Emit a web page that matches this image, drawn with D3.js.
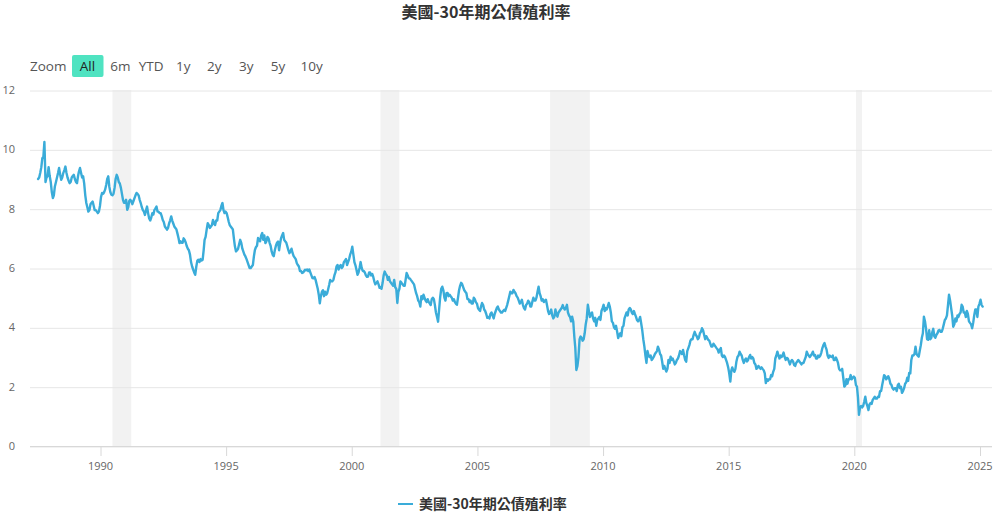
<!DOCTYPE html>
<html><head><meta charset="utf-8">
<script src="https://cdn.jsdelivr.net/npm/d3@7/dist/d3.min.js"></script>
<style>
body{margin:0;background:#fff}
svg{display:block}
</style></head>
<body>
<svg id="c" width="996" height="515"></svg>
<script>
// ---- data: US 30-year Treasury yield (%), two readings per month (1st, 16th) ----
const title = "美國-30年期公債殖利率";
const y1987 = [9.0, 9.05, 9.2, 9.4, 9.7, 9.75, 10.25, 8.9, 9.05, 9.1, 9.4]; // from Jul 16
const y1988 = [9.1, 8.9, 8.55, 8.36, 8.45, 8.75, 8.9, 9.05, 9.2, 9.37, 9.15, 8.97, 9.05, 9.2, 9.3, 9.42, 9.2, 9.05, 8.95, 8.86, 8.9, 9.05, 9.1, 9.14];
const y1989 = [9.0, 8.9, 8.86, 9.1, 9.25, 9.37, 9.2, 9.05, 9.09, 8.85, 8.45, 8.19, 8.05, 7.9, 7.95, 8.15, 8.2, 8.24, 8.1, 7.95, 7.95, 7.9, 7.85, 7.9];
const y1990 = [8.1, 8.4, 8.53, 8.5, 8.55, 8.64, 8.8, 9.0, 9.09, 8.75, 8.55, 8.47, 8.45, 8.5, 8.7, 9.0, 9.14, 9.05, 8.9, 8.85, 8.7, 8.5, 8.3, 8.2];
const y1991 = [8.2, 8.3, 7.96, 8.05, 8.25, 8.3, 8.25, 8.15, 8.25, 8.35, 8.45, 8.53, 8.5, 8.45, 8.3, 8.19, 8.05, 7.95, 7.9, 7.79, 7.95, 8.07, 7.85, 7.68];
const y1992 = [7.6, 7.7, 7.85, 7.8, 7.95, 8.0, 8.07, 7.9, 7.9, 7.85, 7.85, 7.75, 7.62, 7.55, 7.4, 7.35, 7.29, 7.35, 7.5, 7.6, 7.74, 7.6, 7.5, 7.4];
const y1993 = [7.35, 7.3, 7.15, 7.0, 6.84, 6.9, 6.85, 6.85, 7.0, 6.95, 6.85, 6.73, 6.65, 6.6, 6.45, 6.2, 6.05, 5.95, 5.85, 5.77, 6.05, 6.25, 6.28, 6.2];
const y1994 = [6.3, 6.25, 6.28, 6.6, 6.95, 7.05, 7.3, 7.51, 7.45, 7.35, 7.4, 7.45, 7.62, 7.5, 7.45, 7.6, 7.6, 7.85, 7.9, 7.95, 8.1, 8.19, 7.95, 7.85];
const y1995 = [7.9, 7.85, 7.7, 7.55, 7.45, 7.4, 7.35, 7.3, 7.0, 6.73, 6.56, 6.6, 6.65, 6.8, 6.95, 6.85, 6.65, 6.55, 6.45, 6.39, 6.3, 6.2, 6.1, 6.0];
const y1996 = [6.0, 6.05, 6.1, 6.39, 6.6, 6.7, 6.75, 7.01, 6.95, 6.9, 7.1, 7.18, 6.95, 7.1, 6.84, 6.9, 7.05, 7.0, 6.85, 6.75, 6.55, 6.44, 6.4, 6.6];
const y1997 = [6.75, 6.85, 6.89, 6.6, 6.8, 7.0, 7.1, 7.18, 6.95, 6.9, 6.85, 6.73, 6.6, 6.5, 6.56, 6.65, 6.5, 6.4, 6.35, 6.3, 6.16, 6.1, 6.05, 5.9];
const y1998 = [5.9, 5.83, 5.85, 5.9, 5.94, 5.92, 5.95, 5.9, 5.95, 5.85, 5.75, 5.66, 5.65, 5.7, 5.6, 5.45, 5.3, 5.1, 4.81, 5.05, 5.2, 5.25, 5.05, 5.2];
const y1999 = [5.1, 5.15, 5.3, 5.45, 5.6, 5.55, 5.55, 5.6, 5.75, 5.85, 6.05, 6.1, 5.95, 6.05, 6.1, 6.0, 6.05, 6.2, 6.25, 6.3, 6.1, 6.2, 6.3, 6.45];
const y2000 = [6.55, 6.72, 6.45, 6.2, 6.1, 5.95, 5.77, 5.85, 6.0, 6.2, 6.0, 5.9, 5.9, 5.85, 5.75, 5.7, 5.71, 5.85, 5.85, 5.75, 5.8, 5.7, 5.55, 5.45];
const y2001 = [5.5, 5.55, 5.45, 5.33, 5.35, 5.3, 5.5, 5.75, 5.88, 5.8, 5.75, 5.6, 5.7, 5.55, 5.5, 5.45, 5.4, 5.6, 5.35, 5.3, 4.82, 5.2, 5.3, 5.55];
const y2002 = [5.5, 5.45, 5.4, 5.4, 5.6, 5.83, 5.75, 5.65, 5.65, 5.6, 5.55, 5.5, 5.45, 5.3, 5.15, 5.05, 4.9, 4.85, 4.7, 5.05, 4.95, 5.1, 5.0, 4.9];
const y2003 = [4.85, 4.95, 4.85, 4.8, 4.75, 4.95, 5.0, 4.95, 4.75, 4.5, 4.35, 4.19, 4.6, 5.0, 5.3, 5.37, 5.25, 5.0, 4.9, 5.15, 5.16, 5.05, 5.1, 5.05];
const y2004 = [5.0, 4.9, 4.95, 4.85, 4.8, 4.76, 5.0, 5.25, 5.4, 5.5, 5.45, 5.35, 5.25, 5.2, 5.15, 4.95, 4.95, 4.85, 4.9, 4.8, 4.8, 5.0, 4.95, 4.85];
const y2005 = [4.8, 4.65, 4.59, 4.55, 4.7, 4.82, 4.75, 4.6, 4.55, 4.45, 4.32, 4.35, 4.3, 4.45, 4.5, 4.4, 4.3, 4.45, 4.55, 4.65, 4.7, 4.6, 4.55, 4.5];
const y2006 = [4.5, 4.55, 4.59, 4.55, 4.65, 4.75, 4.9, 5.05, 5.2, 5.15, 5.15, 5.26, 5.2, 5.15, 5.05, 5.0, 4.9, 4.8, 4.85, 4.93, 4.75, 4.65, 4.6, 4.75];
const y2007 = [4.8, 4.9, 4.85, 4.7, 4.7, 4.85, 5.0, 4.9, 4.9, 5.0, 5.2, 5.37, 5.15, 5.05, 4.9, 4.95, 4.85, 4.9, 4.93, 4.75, 4.55, 4.45, 4.5, 4.6];
const y2008 = [4.4, 4.3, 4.36, 4.6, 4.45, 4.36, 4.5, 4.55, 4.6, 4.65, 4.75, 4.65, 4.6, 4.65, 4.76, 4.5, 4.4, 4.35, 4.2, 4.36, 4.2, 3.7, 3.3, 2.56];
const y2009 = [2.7, 3.0, 3.6, 3.69, 3.65, 3.55, 3.6, 3.8, 4.1, 4.3, 4.76, 4.55, 4.35, 4.45, 4.5, 4.3, 4.2, 4.32, 4.05, 4.25, 4.3, 4.35, 4.25, 4.55];
const y2010 = [4.65, 4.76, 4.55, 4.65, 4.6, 4.7, 4.82, 4.7, 4.5, 4.2, 4.15, 4.0, 3.95, 4.05, 3.85, 3.64, 3.75, 3.8, 3.7, 4.0, 4.05, 4.3, 4.4, 4.5];
const y2011 = [4.4, 4.6, 4.65, 4.6, 4.5, 4.45, 4.55, 4.45, 4.36, 4.25, 4.2, 4.25, 4.35, 4.14, 3.9, 3.6, 3.35, 3.05, 2.8, 3.2, 3.05, 3.0, 3.05, 2.9];
const y2012 = [2.95, 3.01, 3.1, 3.15, 3.2, 3.35, 3.25, 3.1, 3.05, 2.85, 2.6, 2.7, 2.6, 2.51, 2.6, 2.9, 2.8, 3.01, 2.9, 2.95, 2.85, 2.75, 2.8, 2.9];
const y2013 = [2.95, 3.05, 3.2, 3.15, 3.1, 3.24, 3.05, 2.9, 2.84, 3.2, 3.3, 3.4, 3.55, 3.6, 3.6, 3.74, 3.85, 3.75, 3.7, 3.6, 3.65, 3.8, 3.85, 3.97];
const y2014 = [3.9, 3.75, 3.6, 3.7, 3.65, 3.58, 3.55, 3.45, 3.35, 3.35, 3.45, 3.4, 3.35, 3.3, 3.25, 3.15, 3.24, 3.3, 3.05, 3.0, 3.05, 3.0, 2.9, 2.8];
const y2015 = [2.65, 2.45, 2.17, 2.55, 2.65, 2.55, 2.5, 2.6, 2.85, 3.0, 3.05, 3.18, 3.1, 3.05, 2.9, 2.8, 2.9, 2.95, 2.85, 2.9, 3.0, 3.07, 2.95, 3.0];
const y2016 = [2.95, 2.8, 2.75, 2.6, 2.63, 2.7, 2.65, 2.6, 2.65, 2.6, 2.55, 2.45, 2.12, 2.25, 2.2, 2.25, 2.25, 2.39, 2.35, 2.5, 2.6, 2.95, 3.05, 3.18];
const y2017 = [3.05, 2.95, 3.05, 3.0, 3.05, 3.15, 3.0, 2.9, 2.97, 2.95, 2.85, 2.75, 2.85, 2.9, 2.85, 2.73, 2.7, 2.8, 2.85, 2.9, 2.85, 2.8, 2.75, 2.8];
const y2018 = [2.8, 2.9, 3.0, 3.18, 3.1, 3.05, 3.0, 3.05, 3.1, 3.18, 3.05, 3.07, 2.95, 2.95, 3.05, 3.0, 3.05, 3.15, 3.3, 3.4, 3.47, 3.35, 3.25, 3.05];
const y2019 = [2.97, 3.05, 3.01, 3.0, 3.05, 2.9, 2.9, 2.98, 2.9, 2.8, 2.6, 2.55, 2.55, 2.6, 2.3, 2.0, 2.05, 2.25, 2.1, 2.25, 2.25, 2.39, 2.25, 2.3];
const y2020 = [2.34, 2.3, 2.05, 2.0, 1.65, 1.05, 1.3, 1.35, 1.3, 1.35, 1.5, 1.66, 1.45, 1.35, 1.21, 1.4, 1.45, 1.42, 1.55, 1.6, 1.66, 1.6, 1.6, 1.66];
const y2021 = [1.65, 1.85, 1.85, 2.05, 2.2, 2.39, 2.35, 2.25, 2.3, 2.35, 2.25, 2.1, 2.06, 1.95, 1.9, 1.95, 1.95, 1.85, 2.05, 2.1, 1.95, 2.0, 1.79, 1.85];
const y2022 = [1.95, 2.1, 2.15, 2.3, 2.2, 2.46, 2.45, 2.9, 3.05, 3.05, 3.1, 3.35, 3.1, 3.05, 3.01, 3.2, 3.4, 3.65, 3.8, 4.36, 4.2, 3.95, 3.6, 3.58];
const y2023 = [3.9, 3.6, 3.65, 3.85, 3.95, 3.7, 3.65, 3.75, 3.8, 3.9, 3.91, 3.85, 3.85, 3.95, 4.1, 4.25, 4.3, 4.4, 4.75, 5.1, 4.9, 4.65, 4.4, 4.02];
const y2024 = [4.1, 4.3, 4.2, 4.4, 4.35, 4.45, 4.5, 4.76, 4.7, 4.5, 4.5, 4.35, 4.55, 4.45, 4.2, 4.15, 4.1, 3.97, 4.15, 4.4, 4.6, 4.6, 4.35, 4.7];
const y2025 = [4.8, 4.93, 4.75, 4.7];

const seriesYears = [1987,1988,1989,1990,1991,1992,1993,1994,1995,1996,1997,1998,1999,2000,2001,2002,2003,2004,2005,2006,2007,2008,2009,2010,2011,2012,2013,2014,2015,2016,2017,2018,2019,2020,2021,2022,2023,2024,2025];
const seriesByYear = [y1987,y1988,y1989,y1990,y1991,y1992,y1993,y1994,y1995,y1996,y1997,y1998,y1999,y2000,y2001,y2002,y2003,y2004,y2005,y2006,y2007,y2008,y2009,y2010,y2011,y2012,y2013,y2014,y2015,y2016,y2017,y2018,y2019,y2020,y2021,y2022,y2023,y2024,y2025];
const firstYearOffset = 13; // 1987 starts at Jul 16 (half-month slot 13)

// US recessions (shaded bands)
const recessionStarts = ["1990-07-01","2001-03-01","2007-12-01","2020-02-01"];
const recessionEnds   = ["1991-03-31","2001-11-30","2009-06-30","2020-04-30"];

const yTicks = [0,2,4,6,8,10,12];
const xTickYears = [1990,1995,2000,2005,2010,2015,2020,2025];
const rangeButtons = ["All","6m","YTD","1y","2y","3y","5y","10y"];

// ---- build points ----
const data = [];
seriesYears.forEach((yr, yi) => {
  const arr = seriesByYear[yi];
  const off = yi === 0 ? firstYearOffset : 0;
  arr.forEach((v, i) => {
    const k = i + off;
    data.push({date: new Date(yr, Math.floor(k/2), k % 2 ? 16 : 1), v});
  });
});

const plotL = 30, plotR = 992, plotT = 90, plotB = 446;
const svg = d3.select("#c");
const latin = "'Open Sans', 'Noto Sans', sans-serif";
const cjk = "'Noto Sans CJK TC', 'Noto Sans', sans-serif";

const x = d3.scaleTime().domain([new Date(1990,0,1), new Date(2025,0,1)]).range([100, 979.5]);
const y = d3.scaleLinear().domain([0,12]).range([plotB, plotT]);

// title
svg.append("text").attr("x", 486).attr("y", 18).attr("text-anchor","middle")
  .attr("font-family", cjk).attr("font-size", 16).attr("font-weight","bold").attr("fill","#333")
  .text(title);

// range selector
svg.append("text").attr("x", 30).attr("y", 71).attr("font-family", latin).attr("font-size", 13.5)
  .attr("fill","#555").text("Zoom");
const btnCenters = [87.5, 120.3, 151.2, 183.3, 214.2, 246.2, 278, 311.7];
rangeButtons.forEach((b,i) => {
  const g = svg.append("g");
  if (i === 0) {
    g.append("rect").attr("x", 72).attr("y", 55).attr("width", 31.5).attr("height", 22)
      .attr("rx", 2).attr("fill", "#4fe3c1");
  }
  g.append("text").attr("x", btnCenters[i]).attr("y", 71).attr("text-anchor","middle")
    .attr("font-family", latin).attr("font-size", 13.5)
    .attr("fill", i === 0 ? "#222" : "#555").text(b);
});

// clip
svg.append("clipPath").attr("id","clip").append("rect")
  .attr("x", plotL).attr("y", plotT - 5).attr("width", plotR - plotL).attr("height", plotB - plotT + 5);

// recession bands
svg.append("g").attr("clip-path","url(#clip)").selectAll("rect")
  .data(recessionStarts.map((s,i) => [new Date(s), new Date(recessionEnds[i])]))
  .join("rect")
  .attr("x", d => x(d[0])).attr("width", d => x(d[1]) - x(d[0]))
  .attr("y", plotT).attr("height", plotB - plotT)
  .attr("fill", "#f2f2f2");

// y grid + labels via axis
const yAxis = d3.axisLeft(y).tickValues(yTicks).tickSize(-(plotR - plotL)).tickPadding(15).tickFormat(d3.format("d"));
const gy = svg.append("g").attr("transform", `translate(${plotL},0)`).call(yAxis);
gy.select(".domain").remove();
gy.selectAll(".tick line").attr("stroke", "#e6e6e6").attr("stroke-width", 1)
  .attr("transform", "translate(0,0.5)");
gy.selectAll(".tick text").attr("font-family", latin).attr("font-size", 11).attr("fill", "#666")
  .attr("x", -15);

// x axis
const xAxis = d3.axisBottom(x).tickValues(xTickYears.map(yr => new Date(yr,0,1)))
  .tickSize(10).tickPadding(6).tickFormat(d3.timeFormat("%Y"));
const gx = svg.append("g").attr("transform", `translate(0,${plotB})`).call(xAxis);
gx.select(".domain").attr("d", `M${plotL},0.5H${plotR}`).attr("stroke", "#d8d8d8");
gx.selectAll(".tick line").attr("stroke", "#d8d8d8").attr("transform","translate(0.5,0)");
gx.selectAll(".tick text").attr("font-family", latin).attr("font-size", 11).attr("fill", "#666");

// line
const line = d3.line().x(d => x(d.date)).y(d => y(d.v)).curve(d3.curveLinear);
svg.append("path").datum(data).attr("clip-path","url(#clip)")
  .attr("d", line).attr("fill","none").attr("stroke","#3aacd9")
  .attr("stroke-width", 2.4).attr("stroke-linejoin","round").attr("stroke-linecap","round");

// legend
svg.append("line").attr("x1", 398).attr("x2", 413).attr("y1", 504).attr("y2", 504)
  .attr("stroke", "#3aacd9").attr("stroke-width", 2);
svg.append("text").attr("x", 419).attr("y", 509).attr("font-family", cjk).attr("font-size", 14)
  .attr("font-weight","bold").attr("fill","#333").text(title);
</script>
</body></html>
